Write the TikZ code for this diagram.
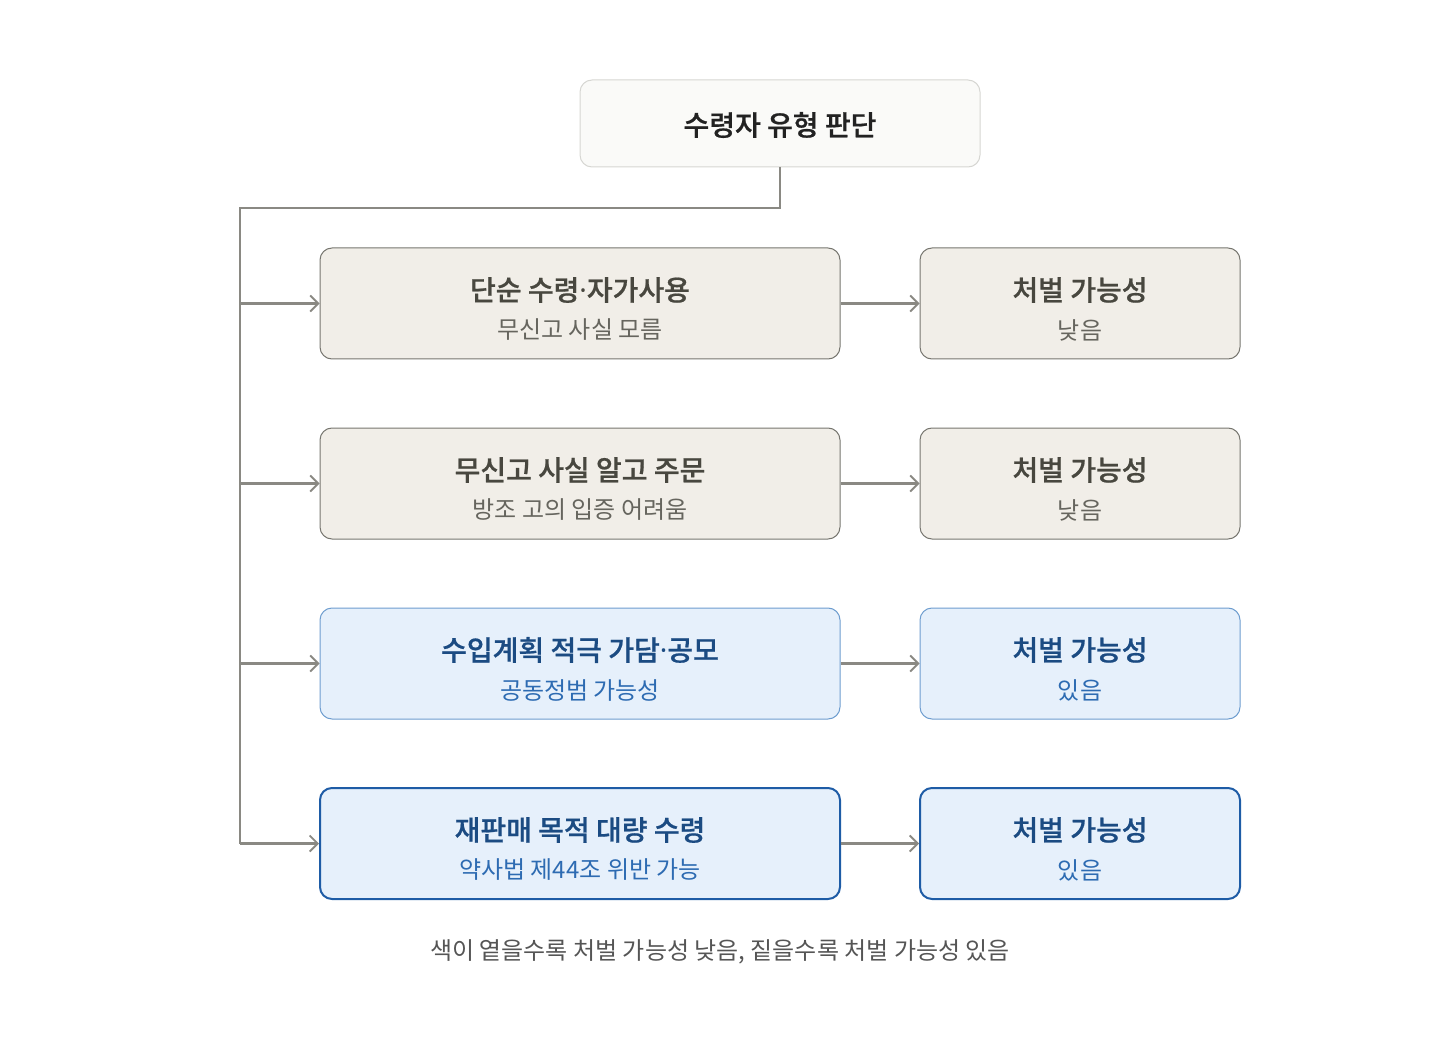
\documentclass[tikz,border=0pt]{standalone}
\usepackage{fontspec}
\setmainfont{Noto Sans CJK KR}[BoldFont={Noto Sans CJK KR Medium}, BoldFeatures={FakeBold=0.7}]
\newfontfamily\dotfont{Noto Sans}
\usetikzlibrary{arrows.meta}
\definecolor{topfill}{HTML}{FAFAF8}
\definecolor{topdraw}{HTML}{D6D6D2}
\definecolor{grayfill}{HTML}{F1EEE8}
\definecolor{graydraw}{HTML}{77766F}
\definecolor{graytitle}{HTML}{48473F}
\definecolor{graysub}{HTML}{66655E}
\definecolor{bluefill}{HTML}{E6F0FB}
\definecolor{bluedraw}{HTML}{6E9DCF}
\definecolor{bluedark}{HTML}{1E5CA6}
\definecolor{bluetitle}{HTML}{1B4B82}
\definecolor{bluesub}{HTML}{2D6BB2}
\definecolor{linec}{HTML}{8A8983}
\definecolor{footc}{HTML}{555555}
\tikzset{
  box/.style={rounded corners=12pt, minimum height=111pt, inner sep=0pt},
  wide/.style={box, minimum width=520pt},
  narrow/.style={box, minimum width=320pt},
  grayb/.style={fill=grayfill, draw=graydraw, line width=1pt},
  lightb/.style={fill=bluefill, draw=bluedraw, line width=1pt},
  darkb/.style={fill=bluefill, draw=bluedark, line width=2pt},
  ttltext/.style={inner sep=0pt, font=\fontsize{28pt}{32pt}\selectfont\bfseries},
  subtext/.style={inner sep=0pt, font=\fontsize{24pt}{28pt}\selectfont},
  conn/.style={draw=linec, line width=2.4pt},
  arr/.style={conn, -{Straight Barb[length=8pt,width=16pt,line width=1.8pt]}},
}
\newcommand{\md}{{\dotfont ·}}
\begin{document}
\begin{tikzpicture}[x=1pt,y=-1pt]
\useasboundingbox (0,0) rectangle (1440,1040);
\node[box, minimum width=400pt, minimum height=87pt, fill=topfill, draw=topdraw, line width=1pt] (top) at (780,123.5) {};
\node[ttltext, text={rgb,255:red,34;green,34;blue,34}] (topt) at (780,125) {수령자 유형 판단};

% boxes
\node[wide, grayb] (a1) at (580,303.5) {};
\node[narrow, grayb] (b1) at (1080,303.5) {};
\node[wide, grayb] (a2) at (580,483.5) {};
\node[narrow, grayb] (b2) at (1080,483.5) {};
\node[wide, lightb] (a3) at (580,663.5) {};
\node[narrow, lightb] (b3) at (1080,663.5) {};
\node[wide, darkb] (a4) at (580,843.5) {};
\node[narrow, darkb] (b4) at (1080,843.5) {};

% texts
\node[ttltext, text=graytitle] (a1t) at (580,290) {단순 수령\md 자가사용};
\node[subtext, text=graysub] (a1s) at (580,330) {무신고 사실 모름};
\node[ttltext, text=graytitle] (b1t) at (1080,290) {처벌 가능성};
\node[subtext, text=graysub] (b1s) at (1080,330) {낮음};

\node[ttltext, text=graytitle] (a2t) at (580,470) {무신고 사실 알고 주문};
\node[subtext, text=graysub] (a2s) at (580,510) {방조 고의 입증 어려움};
\node[ttltext, text=graytitle] (b2t) at (1080,470) {처벌 가능성};
\node[subtext, text=graysub] (b2s) at (1080,510) {낮음};

\node[ttltext, text=bluetitle] (a3t) at (580,650) {수입계획 적극 가담\md 공모};
\node[subtext, text=bluesub] (a3s) at (580,690) {공동정범 가능성};
\node[ttltext, text=bluetitle] (b3t) at (1080,650) {처벌 가능성};
\node[subtext, text=bluesub] (b3s) at (1080,690) {있음};

\node[ttltext, text=bluetitle] (a4t) at (580,830) {재판매 목적 대량 수령};
\node[subtext, text=bluesub] (a4s) at (580,870) {약사법 제44조 위반 가능};
\node[ttltext, text=bluetitle] (b4t) at (1080,830) {처벌 가능성};
\node[subtext, text=bluesub] (b4s) at (1080,870) {있음};

\coordinate (trunk) at (240,208);
\coordinate (trunkend) at (240,844);
\draw[conn] (top.south) |- (trunk) -- (trunkend);
\foreach \i in {1,2,3,4} {
  \draw[arr] (trunk |- a\i.west) -- (a\i.west);
  \draw[arr] (a\i.east) -- (b\i.west);
}

\node[subtext, text=footc] (foot) at (720,952) {색이 옅을수록 처벌 가능성 낮음, 짙을수록 처벌 가능성 있음};
\end{tikzpicture}
\end{document}
